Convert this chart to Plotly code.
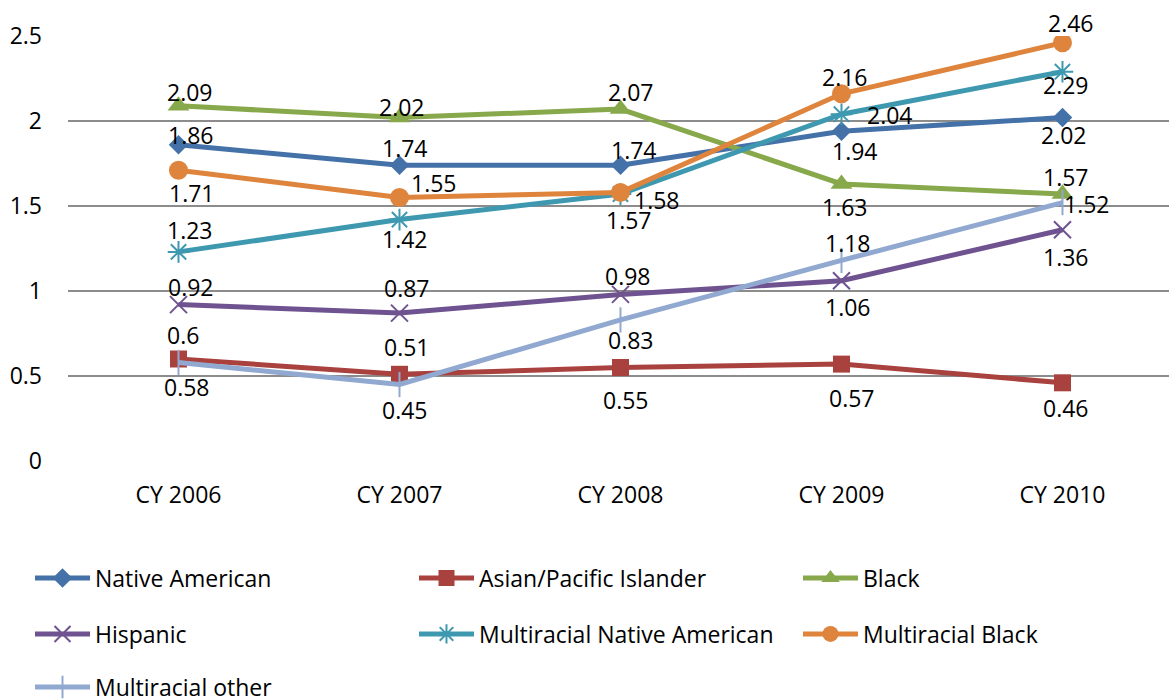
import plotly.graph_objects as go

# Categories and series values
years = ["CY 2006", "CY 2007", "CY 2008", "CY 2009", "CY 2010"]
native_american = [1.86, 1.74, 1.74, 1.94, 2.02]
asian_pacific = [0.60, 0.51, 0.55, 0.57, 0.46]
black = [2.09, 2.02, 2.07, 1.63, 1.57]
hispanic = [0.92, 0.87, 0.98, 1.06, 1.36]
multi_native = [1.23, 1.42, 1.57, 2.04, 2.29]
multi_black = [1.71, 1.55, 1.58, 2.16, 2.46]
multi_other = [0.58, 0.45, 0.83, 1.18, 1.52]
y_ticks = [0, 0.5, 1, 1.5, 2, 2.5]
y_tick_labels = ["0", "0.5", "1", "1.5", "2", "2.5"]

FONT = "Open Sans"
FS = 23
W, H = 1169, 700

# name, values, colour, marker symbol, marker size,
# legend slot (column, row), label offsets (dx, dy) in pixels from each point
series = [
    ("Native American", native_american, "#4471A8", "diamond", 15, (0, 0),
     [(12, -10), (6, -17), (14, -15), (14, 20), (2, 17)]),
    ("Asian/Pacific Islander", asian_pacific, "#A9423F", "square", 17, (1, 0),
     [(4, -24), (8, -27), (6, 32), (11, 34), (4, 25)]),
    ("Black", black, "#87A84B", "triangle-up", 19, (2, 0),
     [(11, -14), (3, -11), (11, -17), (4, 23), (4, -17)]),
    ("Hispanic", hispanic, "#6F5390", "x-thin-open", 17, (0, 1),
     [(12, -18), (8, -25), (8, -18), (7, 26), (4, 27)]),
    ("Multiracial Native American", multi_native, "#3E99B0", "asterisk-open", 18, (1, 1),
     [(11, -22), (6, 19), (9, 26), (49, 1), (4, 13)]),
    ("Multiracial Black", multi_black, "#DE843C", "circle", 19, (2, 1),
     [(13, 23), (35, -15), (37, 8), (4, -17), (9, -20)]),
    ("Multiracial other", multi_other, "#91A9D0", "line-ns-open", 18, (0, 2),
     [(8, 25), (6, 25), (11, 20), (7, -17), (25, 1)]),
]

# legend grid: left edge of each column and vertical centre of each row (px)
legend_cols = [30, 414, 798]
legend_rows = [578, 634, 687]

fig = go.Figure()
annotations = []
legends = {}
for i, (name, vals, color, symbol, size, (col, row), offs) in enumerate(series):
    open_sym = symbol.endswith("-open")
    leg_id = "legend" if i == 0 else f"legend{i + 1}"
    fig.add_trace(go.Scatter(
        x=years, y=vals, name=name, mode="lines+markers",
        line=dict(color=color, width=5),
        marker=dict(symbol=symbol, size=size, color=color,
                    line=dict(color=color, width=2 if open_sym else 0)),
        legend=leg_id,
    ))
    legends[leg_id] = dict(
        xref="container", yref="container",
        xanchor="left", yanchor="middle",
        x=legend_cols[col] / W, y=1 - legend_rows[row] / H,
        font=dict(family=FONT, size=FS, color="#000000"),
        itemwidth=55, bgcolor="rgba(0,0,0,0)",
        itemclick=False, itemdoubleclick=False,
    )
    for x, v, (dx, dy) in zip(years, vals, offs):
        annotations.append(dict(
            x=x, y=v, xref="x", yref="y", text=f"{v:g}", showarrow=False,
            xanchor="center", yanchor="middle", xshift=dx, yshift=-dy,
            font=dict(family=FONT, size=FS, color="#000000"),
        ))

fig.update_layout(
    width=W, height=H,
    margin=dict(l=68, r=0, t=36, b=239, autoexpand=False),
    paper_bgcolor="white", plot_bgcolor="white",
    font=dict(family=FONT, size=FS, color="#000000"),
    showlegend=True,
    xaxis=dict(
        type="category", range=[-0.5, 4.482], showgrid=False, zeroline=False,
        showline=False, ticks="", tickfont=dict(family=FONT, size=FS, color="#000000"),
        ticklabelstandoff=18,
    ),
    yaxis=dict(
        range=[0, 2.5], tickvals=y_ticks, ticktext=y_tick_labels,
        showgrid=True, gridcolor="#8C8C8C", gridwidth=1.5,
        zeroline=False, showline=False, ticks="",
        tickfont=dict(family=FONT, size=FS, color="#000000"),
        ticklabelstandoff=25,
    ),
    annotations=annotations,
    **legends,
)

fig.write_html("out.html")
